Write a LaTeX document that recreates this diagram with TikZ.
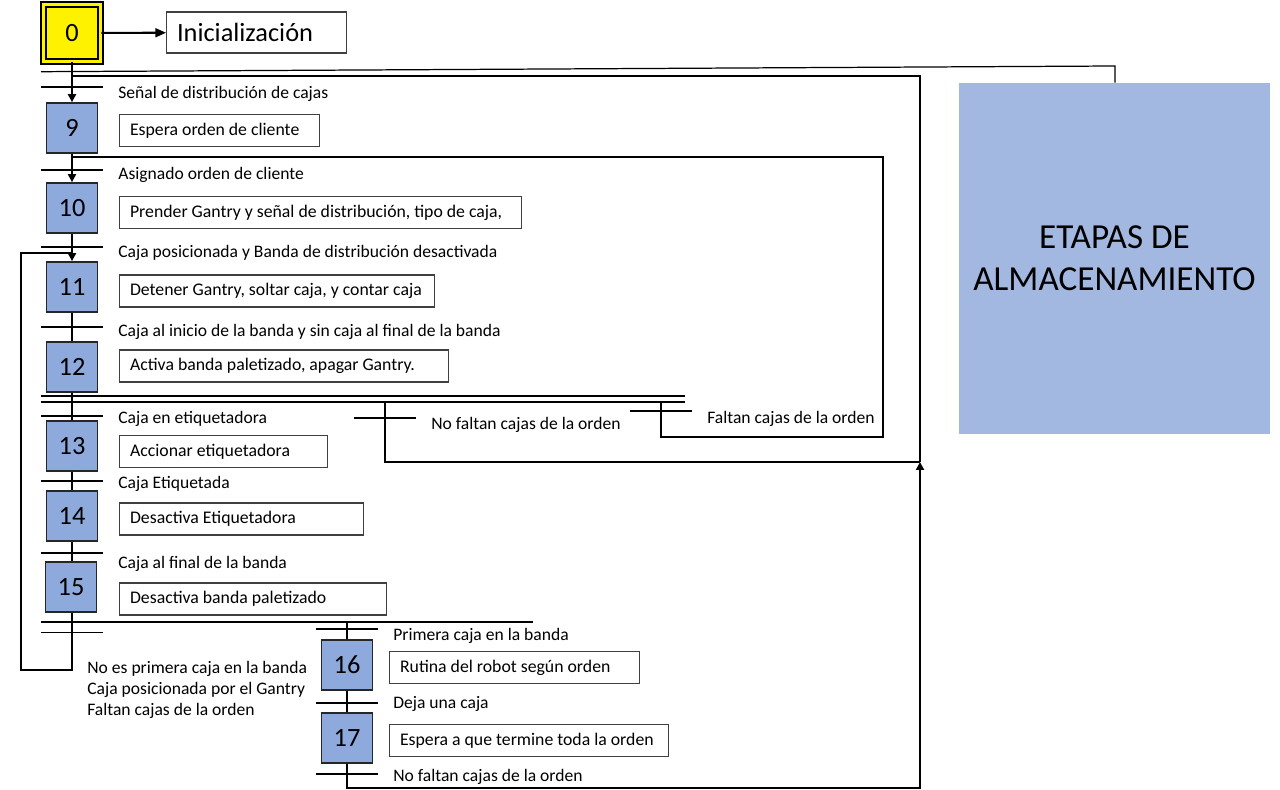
\documentclass[tikz,border=0pt]{standalone}
\usepackage{fontspec}
\setmainfont{Carlito}
\usetikzlibrary{arrows.meta, positioning}
\definecolor{azuletapa}{RGB}{142,169,219}
\definecolor{azulfondo}{RGB}{162,184,224}
\newcommand{\letra}{\fontsize{10}{12}\selectfont}
\newcommand{\letraaccion}{\fontsize{10.1}{12}\selectfont}
\tikzset{
	etapa/.style={
		rectangle,
		draw=black!85,
		line width=1pt,
		fill=azuletapa,
		minimum width=1.02cm,
		minimum height=1cm,
		inner sep=0pt,
		font=\fontsize{15}{17}\selectfont
	},
	inicial/.style={
		etapa,
		fill=yellow,
		draw=black,
		line width=1pt,
		double=yellow,
		double distance=1.6pt,
		minimum width=1.14cm,
		minimum height=1.14cm
	},
	accion/.style={
		rectangle,
		draw=black!75,
		line width=0.6pt,
		anchor=west,
		inner xsep=6pt,
		minimum height=0.64cm,
		font=\letraaccion
	},
	etiqueta/.style={anchor=west, inner sep=0pt, font=\letra},
	barra/.style={line width=0.9pt},
	enlace/.style={line width=1.2pt},
	flecha/.style={enlace, -{Triangle[length=4.5pt, width=4.5pt]}}
}
\newcommand{\etapa}[5]{% numero, posicion etapa, posicion accion, ancho texto, accion
	\node[etapa] (e#1) at (#2) {#1};
	\node[accion, yshift=-0.03cm] (a#1) at (#3) {\makebox[#4][l]{#5}}
}
\newcommand{\transicion}[5]{% nombre, x, y barra, y etiqueta, texto
	\draw[barra] (#2-31,#3) -- (#2+31,#3);
	\node[etiqueta] (t#1) at (#2+46,#4+1.5) {#5}
}

\begin{document}
\begin{tikzpicture}[x=0.02cm, y=-0.02cm]
	\useasboundingbox (0,0) rectangle (1280,790);

	% etapa inicial
	\node[inicial] (e0) at (72,33) {0};
	\node[accion, minimum height=0.82cm, font=\fontsize{15}{17}\selectfont] (ini) at (166,32.5) {\makebox[3.18cm][l]{Inicialización}};
	\draw[enlace, -{Triangle[length=6pt, width=5pt]}] (e0) -- (ini);

	% etapas de la secuencia principal
	\etapa{9}{72,128}{119,129}{3.58cm}{Espera orden de cliente};
	\etapa{10}{72,208}{119,211}{7.62cm}{Prender Gantry y señal de distribución, tipo de caja,};
	\etapa{11}{72,287}{119,289.5}{5.88cm}{Detener Gantry, soltar caja, y contar caja};
	\etapa{12}{72,367}{119,364.5}{6.16cm}{Activa banda paletizado, apagar Gantry.};
	\etapa{13}{72,446}{119,450}{3.74cm}{Accionar etiquetadora};
	\etapa{14}{72,516}{119,517.5}{4.46cm}{Desactiva Etiquetadora};
	\etapa{15}{71,587}{119,597.5}{4.92cm}{Desactiva banda paletizado};
	\etapa{16}{347,665}{389,666}{4.58cm}{Rutina del robot según orden};
	\etapa{17}{347,738}{389,739}{5.16cm}{Espera a que termine toda la orden};

	% transiciones
	\transicion{9}{72}{87}{92}{Señal de distribución de cajas};
	\transicion{10}{72}{170}{173}{Asignado orden de cliente};
	\transicion{11}{72}{247}{251}{Caja posicionada y Banda de distribución desactivada};
	\transicion{12}{72}{327}{330}{Caja al inicio de la banda y sin caja al final de la banda};
	\transicion{13}{72}{416}{417}{Caja en etiquetadora};
	\transicion{14}{72}{481}{482}{Caja Etiquetada};
	\transicion{15}{72}{553}{562}{Caja al final de la banda};
	\transicion{nf}{385}{418}{423}{No faltan cajas de la orden};
	\transicion{f}{661}{411}{417}{Faltan cajas de la orden};
	\transicion{16}{347}{629}{634}{Primera caja en la banda};
	\transicion{17}{347}{703}{702}{Deja una caja};
	\transicion{fin}{347}{774}{775}{No faltan cajas de la orden};
	\draw[barra] (41,632.5) -- (103,632.5);
	\node[etiqueta, anchor=north west, align=left] (tr) at (87,661) {No es primera caja en la banda\\Caja posicionada por el Gantry\\Faltan cajas de la orden};

	% bloque de almacenamiento
	\node[fill=azulfondo, minimum width=6.22cm, minimum height=7.02cm, align=center, font=\fontsize{20}{24}\selectfont] (alm) at (1114.5,258.5) {ETAPAS DE\\ALMACENAMIENTO};

	% divergencias
	\draw[barra] (41,396) -- (685,396);
	\draw[barra] (41,402) -- (685,402);
	\draw[barra] (41,622) -- (533,622);

	\coordinate (s0) at (41,71.7);
	\coordinate (s1) at (1115,66);
	\coordinate (m9) at (72,76);
	\coordinate (k9) at (920,76);
	\coordinate (j9) at (920,462);
	\coordinate (r17) at (920,788);
	\coordinate (m10) at (72,157);
	\coordinate (k10) at (883,157);
	\coordinate (r10) at (883,437);
	\coordinate (d2) at (661,402);
	\coordinate (d2b) at (661,437);
	\coordinate (d1) at (385,402);
	\coordinate (d1b) at (385,462);
	\coordinate (d16) at (347,622);
	\coordinate (v15) at (72,670);
	\coordinate (w15) at (21,670);
	\coordinate (w11) at (21,253);
	\coordinate (m11) at (72,253);

	% enlaces
	\draw[line width=0.7pt] (s0) -- (s1) -- (s1 |- alm.north);
	\draw[flecha] (e0) -- (e9);
	\draw[flecha] (e9) -- (e10);
	\draw[flecha] (e10) -- (e11);
	\draw[enlace] (e11) -- (e12);
	\draw[enlace] (e12) -- (e13);
	\draw[enlace] (e13) -- (e14);
	\draw[enlace] (e14.south) -- (e14.south |- e15.north);
	\draw[enlace] (e14.south |- e15.south) -- (v15) -- (w15) -- (w11) -- (m11);
	\draw[enlace] (d16) -- (e16);
	\draw[enlace] (e16) -- (e17);
	\draw[flecha] (e17.south) |- (r17) -- (j9);
	\draw[enlace] (j9) -- (k9) -- (m9);
	\draw[enlace] (d1) -- (d1b) -- (j9);
	\draw[enlace] (d2) -- (d2b) -- (r10) -- (k10) -- (m10);
\end{tikzpicture}
\end{document}
